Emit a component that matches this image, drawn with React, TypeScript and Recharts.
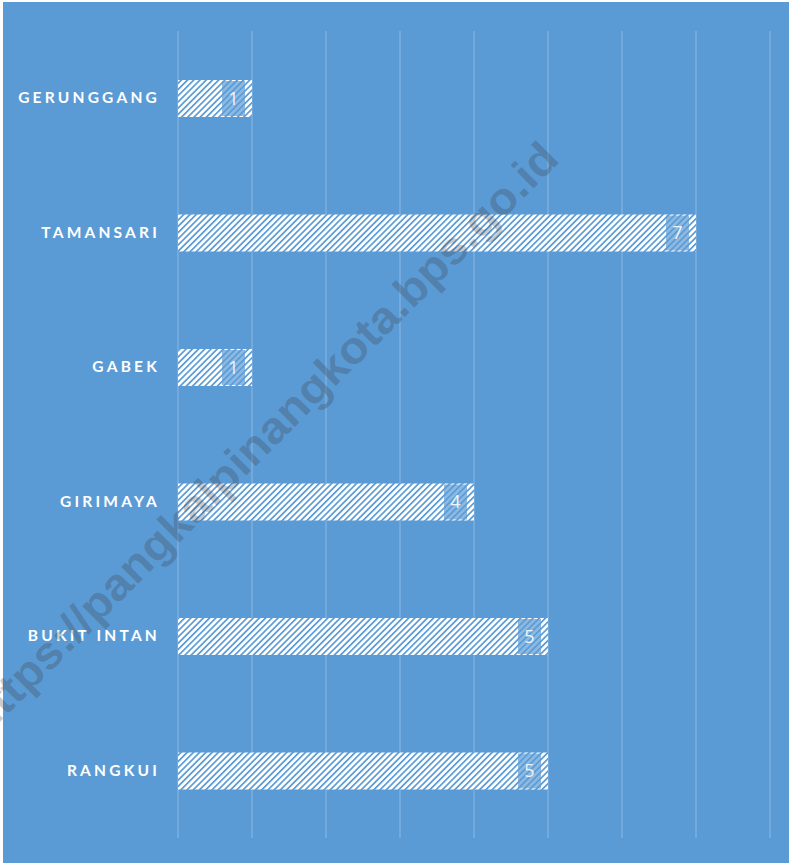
import { BarChart, Bar, XAxis, YAxis, CartesianGrid, LabelList } from 'recharts';

const categories = ['GERUNGGANG', 'TAMANSARI', 'GABEK', 'GIRIMAYA', 'BUKIT INTAN', 'RANGKUI'];
const values = [1, 7, 1, 4, 5, 5];
const xTicks = [0, 1, 2, 3, 4, 5, 6, 7, 8];

const BG = '#5B9BD5';

const data = categories.map((name, i) => ({ name, value: values[i] }));

function CategoryTick(props: any) {
  const { x, y, payload } = props;
  return (
    <text
      x={x - 10}
      y={y}
      dy={5}
      textAnchor="end"
      fill="#ffffff"
      fontFamily="Lato, 'Open Sans', sans-serif"
      fontWeight={700}
      fontSize={15.5}
      letterSpacing={3.2}
    >
      {payload.value}
    </text>
  );
}

function ValueLabel(props: any) {
  const { x, y, width, height, value } = props;
  const bx = x + width - 30;
  return (
    <g>
      <rect x={bx} y={y + 1} width={23} height={height - 2} fill={BG} fillOpacity={0.7} />
      <text
        x={bx + 11.5}
        y={y + height / 2}
        dy={6}
        textAnchor="middle"
        fill="#eef4fa"
        fontFamily="'Open Sans', Lato, sans-serif"
        fontSize={18}
      >
        {value}
      </text>
    </g>
  );
}

export default function App() {
  return (
    <div style={{ position: 'absolute', left: 0, top: 0, width: 789, height: 863, background: '#fff' }}>
      <div style={{ position: 'absolute', left: 3, top: 2, width: 786, height: 861, background: BG }}>
        <BarChart
          width={786}
          height={861}
          data={data}
          layout="vertical"
          margin={{ top: 29, right: 19, bottom: 25, left: 0 }}
          barCategoryGap={0}
        >
          <defs>
            <pattern id="hatch" patternUnits="userSpaceOnUse" width={4.4} height={4.4} patternTransform="rotate(45)">
              <rect x={0} y={0} width={4.4} height={4.4} fill="#ffffff" />
              <rect x={0} y={0} width={1.7} height={4.4} fill={BG} />
            </pattern>
          </defs>
          <CartesianGrid horizontal={false} stroke="#8db7e1" strokeWidth={1} />
          <XAxis type="number" domain={[0, 8]} ticks={xTicks} hide />
          <YAxis
            type="category"
            dataKey="name"
            width={175}
            axisLine={false}
            tickLine={false}
            tick={<CategoryTick />}
          />
          <Bar dataKey="value" fill="url(#hatch)" barSize={37} isAnimationActive={false}>
            <LabelList dataKey="value" content={<ValueLabel />} />
          </Bar>
        </BarChart>
      </div>
      <svg
        width={789}
        height={863}
        style={{ position: 'absolute', left: 0, top: 0, pointerEvents: 'none' }}
      >
        <text
          x={262}
          y={438}
          textAnchor="middle"
          dominantBaseline="central"
          transform="rotate(-45 262 438)"
          fill="#333333"
          fillOpacity={0.25}
          fontFamily="'Liberation Sans', Arial, sans-serif"
          fontWeight={700}
          fontSize={45}
          textLength={815}
          lengthAdjust="spacingAndGlyphs"
        >
          https://pangkalpinangkota.bps.go.id
        </text>
      </svg>
    </div>
  );
}
